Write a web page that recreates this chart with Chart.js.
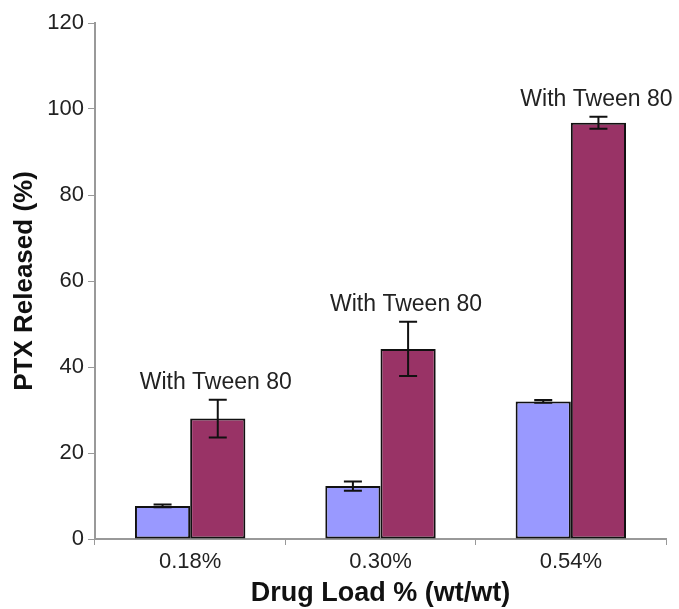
<!DOCTYPE html>
<html>
<head>
<meta charset="utf-8">
<script src="https://cdn.jsdelivr.net/npm/chart.js@4/dist/chart.umd.min.js"></script>
<style>
  html, body { margin: 0; padding: 0; background: #fff; }
  #wrap { width: 679px; height: 609px; }
</style>
</head>
<body>
<div id="wrap"><canvas id="chart" width="679" height="609"></canvas></div>
<script>
const LOADS = ['0.18%', '0.30%', '0.54%'];
const WITHOUT_TWEEN = [7.7, 12.3, 32.0];
const WITHOUT_ERR = [0.3, 1.1, 0.3];
const WITH_TWEEN = [28.0, 44.2, 96.8];
const WITH_ERR = [4.4, 6.3, 1.4];
const ANNOTATION = 'With Tween 80';

const FONT = 'Arial, "Liberation Sans", sans-serif';

const errorBars = {
    id: 'errorBars',
    afterDatasetsDraw(chart) {
        const ctx = chart.ctx;
        const y = chart.scales.y;
        const errs = [WITHOUT_ERR, WITH_ERR];
        ctx.save();
        ctx.strokeStyle = '#111';
        ctx.lineWidth = 2;
        chart.data.datasets.forEach((ds, di) => {
            chart.getDatasetMeta(di).data.forEach((bar, i) => {
                const v = ds.data[i], e = errs[di][i];
                const top = y.getPixelForValue(v + e);
                const bot = y.getPixelForValue(v - e);
                ctx.beginPath();
                ctx.moveTo(bar.x, top); ctx.lineTo(bar.x, bot);
                ctx.moveTo(bar.x - 9, top); ctx.lineTo(bar.x + 9, top);
                ctx.moveTo(bar.x - 9, bot); ctx.lineTo(bar.x + 9, bot);
                ctx.stroke();
            });
        });
        // annotations above the Tween bars
        ctx.fillStyle = '#222';
        ctx.font = '23px ' + FONT;
        ctx.textAlign = 'center';
        ctx.textBaseline = 'middle';
        chart.getDatasetMeta(1).data.forEach((bar, i) => {
            const top = y.getPixelForValue(WITH_TWEEN[i] + WITH_ERR[i]);
            ctx.fillText(ANNOTATION, bar.x - 2, top - 17);
        });
        ctx.restore();
    }
};

new Chart(document.getElementById('chart'), {
    type: 'bar',
    data: {
        labels: LOADS,
        datasets: [{
            label: 'Without Tween 80',
            data: WITHOUT_TWEEN,
            backgroundColor: '#9999ff',
            borderColor: '#111',
            borderWidth: 2,
            borderSkipped: false,
        }, {
            label: 'With Tween 80',
            data: WITH_TWEEN,
            backgroundColor: '#993366',
            borderColor: '#111',
            borderWidth: 2,
            borderSkipped: false,
        }],
    },
    options: {
        responsive: false,
        animation: false,
        layout: { padding: { top: 23, right: 13, left: 0, bottom: 0 } },
        plugins: { legend: { display: false }, tooltip: { enabled: false } },
        datasets: { bar: { categoryPercentage: 0.58, barPercentage: 1.0 } },
        scales: {
            x: {
                afterFit: s => { s.height = 70; },
                grid: { drawOnChartArea: false, drawTicks: true, tickLength: 6, color: '#999', offset: true },
                border: { color: '#999', width: 2 },
                ticks: { color: '#222', font: { size: 22, family: FONT }, padding: 4 },
                title: { display: true, text: 'Drug Load % (wt/wt)', color: '#111', padding: { top: 0, bottom: 0 },
                         font: { size: 27, weight: 'bold', family: FONT, lineHeight: 1.15 } },
            },
            y: {
                min: 0, max: 120,
                afterFit: s => { s.width = 95; },
                grid: { drawOnChartArea: false, drawTicks: true, tickLength: 7, color: '#999' },
                border: { color: '#999', width: 2 },
                ticks: { stepSize: 20, color: '#222', padding: 4, font: { size: 22, family: FONT } },
                title: { display: true, text: 'PTX Released (%)', color: '#111', padding: { top: 12, bottom: 0 },
                         font: { size: 26, weight: 'bold', family: FONT, lineHeight: 1 } },
            },
        },
    },
    plugins: [errorBars],
});
</script>
</body>
</html>
